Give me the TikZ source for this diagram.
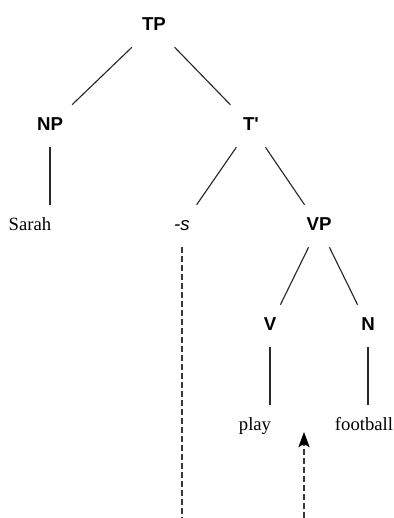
\documentclass[tikz,border=0pt]{standalone}
\usepackage{fontspec}
\setmainfont{Liberation Serif}
\setsansfont{Liberation Sans}
\usepackage{tikz}
\usetikzlibrary{arrows.meta, positioning}
\definecolor{branchgrey}{RGB}{40, 40, 40}
\definecolor{tracegrey}{RGB}{55, 55, 55}

\begin{document}
\begin{tikzpicture}[
    >={Stealth[length=11.5pt, width=8.5pt, inset=2.5pt, black]},
    on grid,
    node distance=75pt,
    cat/.style={rectangle, minimum height=31.5pt, minimum width=34pt, inner sep=0pt, text height=10pt, text depth=3pt, font=\fontsize{14}{16}\selectfont\sffamily\bfseries},
    affix/.style={cat, font=\fontsize{14}{16}\selectfont\sffamily\itshape},
    word/.style={rectangle, minimum height=31.5pt, inner sep=0pt, text height=10pt, text depth=3pt, font=\fontsize{14}{16}\selectfont},
    branch/.style={line width=0.85pt, draw=branchgrey},
    movement/.style={line width=0.85pt, draw=tracegrey, dash pattern=on 4.5pt off 2.25pt}
  ]

  % Root and frame
  \node[cat] (tp) {TP};
  \path (tp) ++(-115.5pt,19.5pt) coordinate (topleft) ++(294.75pt,-388.5pt) coordinate (botright);
  \useasboundingbox (topleft) rectangle (botright);

  % Phrases
  \node[cat, below left=75pt and 78pt of tp] (np) {NP};
  \node[cat, below right=75pt and 72.75pt of tp] (tbar) {T\textquotesingle};
  \node[word, below left=75pt and 15pt of np] (sarah) {Sarah};
  \node[affix, below left=75pt and 51.75pt of tbar] (s) {-s};
  \node[cat, below right=75pt and 51pt of tbar] (vp) {VP};
  \node[cat, below left=75pt and 36.75pt of vp] (v) {V};
  \node[cat, below right=75pt and 36.75pt of vp] (n) {N};
  \node[word, below left=75pt and 11.25pt of v] (play) {play};
  \node[word, below left=75pt and 3pt of n] (football) {football};

  % Landing site of the moved affix
  \coordinate[below right=79.5pt and 25.5pt of v] (landing);

  % Branches
  \draw[branch] (tp) -- (np);
  \draw[branch] (tp) -- (tbar);
  \draw[branch] (np) -- (np |- sarah.north);
  \draw[branch] (tbar) -- (s);
  \draw[branch] (tbar) -- (vp);
  \draw[branch] (vp) -- (v);
  \draw[branch] (vp) -- (n);
  \draw[branch] (v) -- (v |- play.north);
  \draw[branch] (n) -- (n |- football.north);

  % Movement
  \draw[movement] (s) -- (s |- botright);
  \draw[movement, ->] (landing |- botright) -- (landing);

\end{tikzpicture}
\end{document}
